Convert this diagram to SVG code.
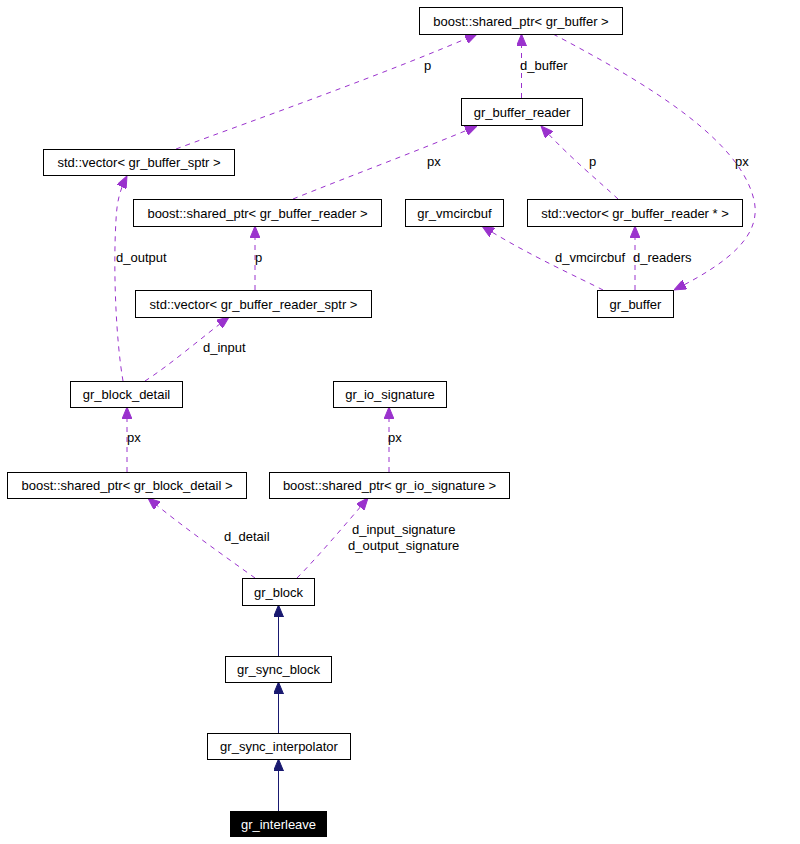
<svg xmlns="http://www.w3.org/2000/svg" width="800" height="844" viewBox="0 0 800 844">
<style>
.box{fill:#fff;stroke:#000;stroke-width:1}
.t{font-family:"Liberation Sans",Arial,sans-serif;font-size:13px;fill:#000;text-anchor:middle}
.lbl{font-family:"Liberation Sans",Arial,sans-serif;font-size:13px;fill:#000}
.use{fill:none;stroke:#9a32cd;stroke-width:1;stroke-dasharray:5,5;marker-end:url(#pa)}
.inh{fill:none;stroke:#191970;stroke-width:1;marker-end:url(#ba)}
</style>
<defs>
<marker id="pa" viewBox="0 0 12 10" refX="12" refY="5" markerWidth="12" markerHeight="10" markerUnits="userSpaceOnUse" orient="auto">
<path d="M0,0 L12,5 L0,10 z" fill="#9a32cd" stroke="#9a32cd"/>
</marker>
<marker id="ba" viewBox="0 0 12 10" refX="12" refY="5" markerWidth="12" markerHeight="10" markerUnits="userSpaceOnUse" orient="auto">
<path d="M0,0 L12,5 L0,10 z" fill="#191970" stroke="#191970"/>
</marker>
</defs>
<g id="edges">
<path class="use" d="M176,149 C260,118 390,72 477,34"/>
<path class="use" d="M521.5,98 L521.5,34"/>
<path class="use" d="M553,34 C650,85 740,140 754,200 C762,235 730,262 674,290"/>
<path class="use" d="M293,199 C350,176 420,150 477,126"/>
<path class="use" d="M618,199 C600,182 570,158 541,126"/>
<path class="use" d="M603,290 C580,278 530,256 482,226"/>
<path class="use" d="M635,290 L635,226"/>
<path class="use" d="M255,290 L255,226"/>
<path class="use" d="M123,381 C116,340 113,270 116,220 C117,200 120,190 127,176"/>
<path class="use" d="M145,381 C170,365 205,335 229,317"/>
<path class="use" d="M127,472 L127,407"/>
<path class="use" d="M389,472 L389,407"/>
<path class="use" d="M255,578 C230,560 180,525 148,498"/>
<path class="use" d="M297,578 C315,560 345,525 368,498"/>
<path class="inh" d="M278.5,656 L278.5,605"/>
<path class="inh" d="M278.5,733 L278.5,682"/>
<path class="inh" d="M278.5,811 L278.5,759"/>
<text class="lbl" x="424" y="70">p</text>
<text class="lbl" x="520" y="70">d_buffer</text>
<text class="lbl" x="735" y="166">px</text>
<text class="lbl" x="427" y="166">px</text>
<text class="lbl" x="589" y="166">p</text>
<text class="lbl" x="116" y="262">d_output</text>
<text class="lbl" x="255" y="262">p</text>
<text class="lbl" x="555" y="262">d_vmcircbuf</text>
<text class="lbl" x="633" y="262">d_readers</text>
<text class="lbl" x="203" y="352">d_input</text>
<text class="lbl" x="127" y="442">px</text>
<text class="lbl" x="388" y="442">px</text>
<text class="lbl" x="224" y="541">d_detail</text>
<text class="lbl" x="352" y="534">d_input_signature</text>
<text class="lbl" x="348" y="550">d_output_signature</text>
</g>
<g id="sp_gr_buffer"><rect class="box" x="419.5" y="7.5" width="203" height="27"/><text class="t" x="521" y="25.5">boost::shared_ptr&lt; gr_buffer &gt;</text></g>
<g id="gr_buffer_reader"><rect class="box" x="461.5" y="98.5" width="121" height="27"/><text class="t" x="522" y="116.5">gr_buffer_reader</text></g>
<g id="vec_gr_buffer_sptr"><rect class="box" x="43.5" y="149.5" width="191" height="26"/><text class="t" x="139" y="167">std::vector&lt; gr_buffer_sptr &gt;</text></g>
<g id="sp_gr_buffer_reader"><rect class="box" x="133.5" y="199.5" width="248" height="27"/><text class="t" x="257.5" y="217.5">boost::shared_ptr&lt; gr_buffer_reader &gt;</text></g>
<g id="gr_vmcircbuf"><rect class="box" x="405.5" y="199.5" width="98" height="27"/><text class="t" x="454.5" y="217.5">gr_vmcircbuf</text></g>
<g id="vec_gr_buffer_reader_ptr"><rect class="box" x="527.5" y="199.5" width="215" height="27"/><text class="t" x="635" y="217.5">std::vector&lt; gr_buffer_reader * &gt;</text></g>
<g id="vec_gr_buffer_reader_sptr"><rect class="box" x="135.5" y="290.5" width="236" height="27"/><text class="t" x="253.5" y="308.5">std::vector&lt; gr_buffer_reader_sptr &gt;</text></g>
<g id="gr_buffer"><rect class="box" x="597.5" y="290.5" width="76" height="27"/><text class="t" x="635.5" y="308.5">gr_buffer</text></g>
<g id="gr_block_detail"><rect class="box" x="70.5" y="381.5" width="112" height="26"/><text class="t" x="126.5" y="399">gr_block_detail</text></g>
<g id="gr_io_signature"><rect class="box" x="333.5" y="381.5" width="113" height="26"/><text class="t" x="390" y="399">gr_io_signature</text></g>
<g id="sp_gr_block_detail"><rect class="box" x="7.5" y="472.5" width="239" height="26"/><text class="t" x="127" y="490">boost::shared_ptr&lt; gr_block_detail &gt;</text></g>
<g id="sp_gr_io_signature"><rect class="box" x="269.5" y="472.5" width="240" height="26"/><text class="t" x="389.5" y="490">boost::shared_ptr&lt; gr_io_signature &gt;</text></g>
<g id="gr_block"><rect class="box" x="242.5" y="578.5" width="72" height="27"/><text class="t" x="278.5" y="596.5">gr_block</text></g>
<g id="gr_sync_block"><rect class="box" x="225.5" y="656.5" width="106" height="26"/><text class="t" x="278.5" y="674">gr_sync_block</text></g>
<g id="gr_sync_interpolator"><rect class="box" x="207.5" y="733.5" width="143" height="26"/><text class="t" x="279" y="751">gr_sync_interpolator</text></g>
<g id="gr_interleave"><rect x="230" y="811" width="97" height="26" fill="#000"/><text class="t" x="278.5" y="828.5" style="fill:#fff">gr_interleave</text></g>
</svg>
